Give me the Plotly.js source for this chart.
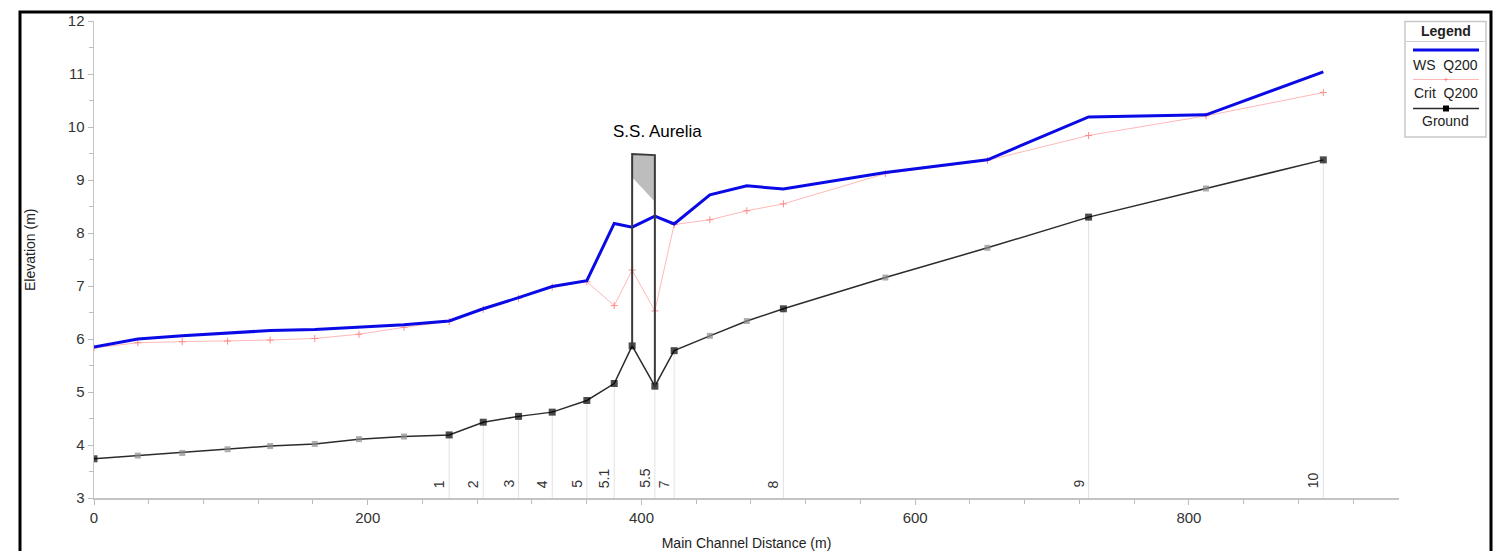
<!DOCTYPE html>
<html>
<head>
<meta charset="utf-8">
<script src="https://cdn.plot.ly/plotly-3.0.1.min.js"></script>
<style>
  html, body { margin: 0; padding: 0; background: #ffffff; }
  #chart { width: 1494px; height: 551px; }
</style>
</head>
<body>
<div id="chart"></div>
<script>
const dist = [0, 32, 64.5, 97.6, 128.7, 161.3, 193.6, 226.5, 259.5, 284.4, 310.2, 334.8, 360.1, 380.1, 393.2, 409.8, 423.9, 450, 477, 503.7, 578.2, 652.8, 726.7, 812.5, 898.2];
const wsQ200 = [5.85, 6.00, 6.06, 6.11, 6.16, 6.18, 6.23, 6.27, 6.34, 6.57, 6.78, 6.99, 7.10, 8.18, 8.11, 8.32, 8.17, 8.72, 8.89, 8.83, 9.14, 9.38, 10.19, 10.23, 11.04];
const critQ200 = [5.83, 5.93, 5.95, 5.96, 5.98, 6.01, 6.09, 6.22, 6.33, 6.56, 6.77, 6.98, 7.08, 6.63, 7.30, 6.53, 8.16, 8.25, 8.42, 8.55, 9.12, 9.37, 9.84, 10.21, 10.65];
const ground = [3.74, 3.80, 3.85, 3.92, 3.98, 4.02, 4.11, 4.16, 4.19, 4.43, 4.54, 4.62, 4.84, 5.16, 5.87, 5.11, 5.78, 6.06, 6.34, 6.57, 7.16, 7.72, 8.30, 8.84, 9.38];
const interpolated = [false, true, true, true, true, true, true, true, false, false, false, false, false, false, false, false, false, true, true, false, true, true, false, true, false];
const sectionLabels = ['', '', '', '', '', '', '', '', '1', '2', '3', '4', '5', '5.1', '', '5.5', '7', '', '', '8', '', '', '9', '', '10'];

const bridgeName = 'S.S. Aurelia';
const bridgeFaces = [393.2, 409.8];
const highChord = [9.49, 9.47];
const lowChord = [9.05, 8.59];

const xTitle = 'Main Channel Distance (m)';
const yTitle = 'Elevation (m)';
const legendTitle = 'Legend';
const seriesNames = ['WS  Q200', 'Crit  Q200', 'Ground'];

// ---- Colors / styles ----
const WS_COLOR = '#0a0ae6';
const CRIT_LINE = '#ffb8b8';
const CRIT_MARK = '#ff8a8a';
const GROUND_COLOR = '#2b2b2b';
const FONT = 'Liberation Sans, Arial, Helvetica, sans-serif';

// section lines (from ground down to the axis) for labelled sections
const secX = [], secY = [];
sectionLabels.forEach((lab, i) => {
  if (lab !== '') { secX.push(dist[i], dist[i], null); secY.push(ground[i], 3, null); }
});

function groundAt(x) {
  return ground[dist.indexOf(x)];
}

const traces = [
  { x: secX, y: secY, mode: 'lines', line: { color: '#e2e2e2', width: 1 }, hoverinfo: 'skip', showlegend: false },
  { x: dist, y: critQ200, mode: 'lines+markers', name: seriesNames[1],
    line: { color: CRIT_LINE, width: 1 },
    marker: { symbol: 'cross-thin', size: 5, line: { color: CRIT_MARK, width: 1 } }, showlegend: false },
  { x: dist, y: wsQ200, mode: 'lines', name: seriesNames[0],
    line: { color: WS_COLOR, width: 3 }, showlegend: false },
  { x: dist, y: ground, mode: 'lines+markers', name: seriesNames[2],
    line: { color: GROUND_COLOR, width: 1.5 },
    marker: { symbol: 'square', size: interpolated.map(f => f ? 6 : 7),
              color: interpolated.map(f => f ? '#8c8c8c' : '#000000'),
              line: { width: 0 } }, showlegend: false },
  // bridge deck (between high and low chord)
  { x: [bridgeFaces[0], bridgeFaces[1], bridgeFaces[1], bridgeFaces[0], bridgeFaces[0]],
    y: [highChord[0], highChord[1], lowChord[1], lowChord[0], highChord[0]],
    mode: 'lines', fill: 'toself', fillcolor: '#bdbdbd', line: { color: 'rgba(0,0,0,0)', width: 0 },
    hoverinfo: 'skip', showlegend: false },
  // bridge outline
  { x: [bridgeFaces[0], bridgeFaces[0], bridgeFaces[1], bridgeFaces[1]],
    y: [groundAt(bridgeFaces[0]), highChord[0], highChord[1], groundAt(bridgeFaces[1])],
    mode: 'lines', line: { color: '#3a3a3a', width: 2 }, hoverinfo: 'skip', showlegend: false }
];

// ---- layout helpers (pixel -> paper) ----
const ML = 94, MT = 21, PW = 1305, PH = 477;
const PX = x => (x - ML) / PW;
const PY = y => (MT + PH - y) / PH;

const annotations = [];
sectionLabels.forEach((lab, i) => {
  if (lab === '') return;
  annotations.push({ x: dist[i], y: 3, xref: 'x', yref: 'y', text: lab, showarrow: false,
    textangle: -90, xanchor: 'right', yanchor: 'bottom', xshift: 0, yshift: 8,
    font: { family: FONT, size: 14, color: '#333' } });
});
annotations.push({ x: (bridgeFaces[0] + bridgeFaces[1]) / 2, y: highChord[0], xref: 'x', yref: 'y',
  text: bridgeName, showarrow: false, xanchor: 'center', yanchor: 'middle', xshift: 14, yshift: 23,
  font: { family: FONT, size: 17, color: '#000' } });

// y-axis title placed as rotated text (to keep it clear of the frame)
annotations.push({ x: PX(30), y: PY(250), xref: 'paper', yref: 'paper', text: yTitle, showarrow: false,
  textangle: -90, xanchor: 'center', yanchor: 'middle',
  font: { family: FONT, size: 14, color: '#222' } });

// custom legend
const LX0 = 1405, LX1 = 1486, LCX = 1445.5;
const legendTexts = [[legendTitle, 31, true], [seriesNames[0], 64.5, false], [seriesNames[1], 93, false], [seriesNames[2], 121, false]];
legendTexts.forEach(([t, y, bold]) => {
  annotations.push({ x: PX(LCX), y: PY(y), xref: 'paper', yref: 'paper', text: bold ? '<b>' + t + '</b>' : t,
    showarrow: false, xanchor: 'center', yanchor: 'middle',
    font: { family: FONT, size: 14, color: '#222' } });
});

const shapes = [
  // outer frame
  { type: 'rect', xref: 'paper', yref: 'paper', x0: PX(20), x1: PX(1491), y0: PY(575), y1: PY(12),
    line: { color: '#000', width: 3 }, fillcolor: 'rgba(0,0,0,0)', layer: 'above' },
  // legend box
  { type: 'rect', xref: 'paper', yref: 'paper', x0: PX(LX0), x1: PX(LX1), y0: PY(137), y1: PY(21.5),
    line: { color: '#c8c8c8', width: 1.5 }, fillcolor: '#ffffff', layer: 'above' },
  { type: 'line', xref: 'paper', yref: 'paper', x0: PX(LX0), x1: PX(LX1), y0: PY(41.5), y1: PY(41.5),
    line: { color: '#cfcfcf', width: 1 }, layer: 'above' },
  { type: 'line', xref: 'paper', yref: 'paper', x0: PX(1413), x1: PX(1479), y0: PY(50), y1: PY(50),
    line: { color: WS_COLOR, width: 3 }, layer: 'above' },
  { type: 'line', xref: 'paper', yref: 'paper', x0: PX(1413), x1: PX(1479), y0: PY(79.5), y1: PY(79.5),
    line: { color: CRIT_LINE, width: 1 }, layer: 'above' },
  { type: 'line', xref: 'paper', yref: 'paper', x0: PX(1444), x1: PX(1448), y0: PY(79.5), y1: PY(79.5),
    line: { color: CRIT_MARK, width: 1 }, layer: 'above' },
  { type: 'line', xref: 'paper', yref: 'paper', x0: PX(1446), x1: PX(1446), y0: PY(77.5), y1: PY(81.5),
    line: { color: CRIT_MARK, width: 1 }, layer: 'above' },
  { type: 'line', xref: 'paper', yref: 'paper', x0: PX(1413), x1: PX(1479), y0: PY(108.5), y1: PY(108.5),
    line: { color: GROUND_COLOR, width: 1.6 }, layer: 'above' },
  { type: 'rect', xref: 'paper', yref: 'paper', x0: PX(1443), x1: PX(1449), y0: PY(111.5), y1: PY(105.5),
    line: { color: '#000', width: 0 }, fillcolor: '#000', layer: 'above' }
];

const axisCommon = {
  showline: true, linecolor: '#c4c4c4', linewidth: 1.5, mirror: false,
  showgrid: false, zeroline: false,
  ticks: 'outside', ticklen: 5, tickcolor: '#bdbdbd', tickwidth: 1,
  tickfont: { family: FONT, size: 15, color: '#333' }
};

const layout = {
  width: 1494, height: 551,
  margin: { l: ML, r: 1494 - ML - PW, t: MT, b: 551 - MT - PH, pad: 0 },
  paper_bgcolor: '#ffffff', plot_bgcolor: '#ffffff',
  showlegend: false,
  xaxis: Object.assign({}, axisCommon, {
    range: [0, 953.5], tick0: 0, dtick: 200,
    minor: { dtick: 40, ticks: 'outside', ticklen: 4, tickcolor: '#bdbdbd', showgrid: false },
    title: { text: xTitle, font: { family: FONT, size: 14, color: '#222' }, standoff: 14 }
  }),
  yaxis: Object.assign({}, axisCommon, {
    range: [3, 12], tick0: 3, dtick: 1,
    minor: { dtick: 0.5, ticks: 'outside', ticklen: 4, tickcolor: '#bdbdbd', showgrid: false }
  }),
  annotations: annotations,
  shapes: shapes
};

Plotly.newPlot('chart', traces, layout, { displayModeBar: false, staticPlot: true });
</script>
</body>
</html>
